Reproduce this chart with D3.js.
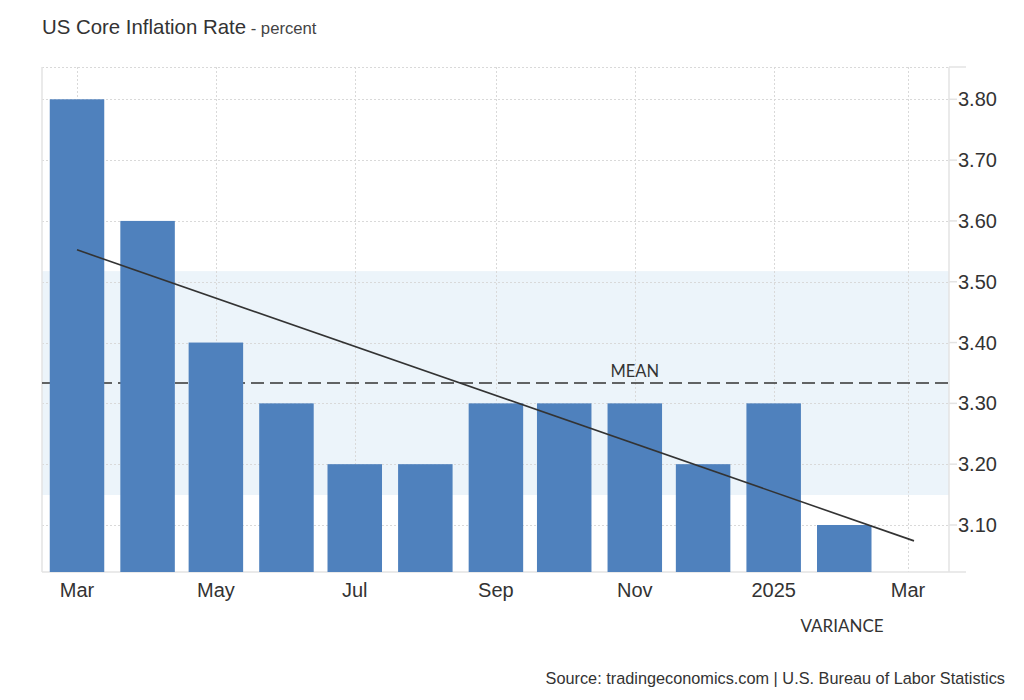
<!DOCTYPE html>
<html>
<head>
<meta charset="utf-8">
<script src="https://cdn.jsdelivr.net/npm/d3@7"></script>
<style>
  html, body { margin: 0; padding: 0; background: #fff; }
  svg { display: block; }
</style>
</head>
<body>
<svg id="chart" width="1024" height="700"></svg>
<script>
// ---- data ----
const months = ["2024-03","2024-04","2024-05","2024-06","2024-07","2024-08","2024-09","2024-10","2024-11","2024-12","2025-01","2025-02"];
const values = [3.8, 3.6, 3.4, 3.3, 3.2, 3.2, 3.3, 3.3, 3.3, 3.2, 3.3, 3.1];
const xTickDates = ["2024-03","2024-05","2024-07","2024-09","2024-11","2025-01","2025-03"];
const xTickLabels = ["Mar","May","Jul","Sep","Nov","2025","Mar"];
const yTicks = [3.1, 3.2, 3.3, 3.4, 3.5, 3.6, 3.7, 3.8];

const parse = d3.timeParse("%Y-%m");
const data = months.map((m, i) => ({ date: parse(m), value: values[i] }));

const svg = d3.select("#chart");
const plot = { left: 42, right: 949, top: 67, bottom: 572 };

const x = d3.scaleTime()
  .domain([parse("2024-03"), parse("2025-03")])
  .range([77, 908]);
const y = d3.scaleLinear()
  .domain([3.0227, 3.8531])
  .range([plot.bottom, plot.top]);

const font = "'Liberation Sans', Arial, sans-serif";
const textColor = "#333";

// title
const title = svg.append("text")
  .attr("x", 42).attr("y", 34)
  .attr("font-family", font).attr("fill", textColor);
title.append("tspan").attr("font-size", 20.4).text("US Core Inflation Rate");
title.append("tspan").attr("font-size", 16.7).attr("fill", "#444").text(" - percent");

// mean / std band
const mean = d3.mean(values);
const sd = d3.deviation(values) * Math.sqrt((values.length - 1) / values.length);

svg.append("rect")
  .attr("x", plot.left).attr("width", plot.right - plot.left)
  .attr("y", y(mean + sd)).attr("height", y(mean - sd) - y(mean + sd))
  .attr("fill", "#ecf4fa");

// grid lines
const grid = svg.append("g").attr("stroke", "#d9d9d9").attr("stroke-width", 1).attr("stroke-dasharray", "2,2");
grid.selectAll("line.h").data(yTicks.concat([y.domain()[1]])).enter().append("line")
  .attr("x1", plot.left).attr("x2", plot.right)
  .attr("y1", d => Math.round(y(d)) + 0.5).attr("y2", d => Math.round(y(d)) + 0.5);
grid.selectAll("line.v").data(xTickDates).enter().append("line")
  .attr("x1", d => Math.round(x(parse(d))) + 0.5).attr("x2", d => Math.round(x(parse(d))) + 0.5)
  .attr("y1", plot.top).attr("y2", plot.bottom);

// axis frame
const frame = svg.append("g").attr("stroke", "#e3e3e3").attr("stroke-width", 1.5).attr("fill", "none");
frame.append("line").attr("x1", plot.left).attr("x2", plot.left).attr("y1", plot.top).attr("y2", plot.bottom);
frame.append("line").attr("x1", plot.right).attr("x2", plot.right).attr("y1", plot.top).attr("y2", plot.bottom);
frame.append("line").attr("x1", plot.left).attr("x2", plot.right + 17).attr("y1", plot.bottom).attr("y2", plot.bottom);
frame.append("line").attr("x1", plot.right).attr("x2", plot.right + 17).attr("y1", plot.top).attr("y2", plot.top);
frame.selectAll("line.tick").data(yTicks).enter().append("line")
  .attr("x1", plot.right).attr("x2", plot.right + 8)
  .attr("y1", d => y(d)).attr("y2", d => y(d));

// mean dashed line (behind bars)
svg.append("line")
  .attr("x1", plot.left).attr("x2", plot.right)
  .attr("y1", y(mean)).attr("y2", y(mean))
  .attr("stroke", "#333").attr("stroke-width", 1.5).attr("stroke-dasharray", "13,6");

// bars
const barW = 54.5;
svg.append("g").selectAll("rect").data(data).enter().append("rect")
  .attr("x", d => x(d.date) - barW / 2)
  .attr("width", barW)
  .attr("y", d => y(d.value))
  .attr("height", d => plot.bottom - y(d.value))
  .attr("fill", "#4f81bd");

// trend line (least squares on time)
const xs = data.map(d => +d.date), ys = values;
const mx = d3.mean(xs), my = d3.mean(ys);
let sxy = 0, sxx = 0;
xs.forEach((v, i) => { sxy += (v - mx) * (ys[i] - my); sxx += (v - mx) * (v - mx); });
const slope = sxy / sxx, icpt = my - slope * mx;
const step = (xs[xs.length - 1] - xs[0]) / (xs.length - 1);
const tStart = xs[0], tEnd = xs[xs.length - 1] + step;
svg.append("line")
  .attr("x1", x(new Date(tStart))).attr("y1", y(icpt + slope * tStart))
  .attr("x2", x(new Date(tEnd))).attr("y2", y(icpt + slope * tEnd))
  .attr("stroke", "#333").attr("stroke-width", 1.6);

// MEAN label
svg.append("text")
  .attr("x", x(parse("2024-11"))).attr("y", y(mean) - 6)
  .attr("text-anchor", "middle")
  .attr("font-family", "Lato, sans-serif").attr("font-size", 16.5).attr("fill", textColor)
  .text("MEAN");

// VARIANCE label
svg.append("text")
  .attr("x", 842).attr("y", 632)
  .attr("text-anchor", "middle")
  .attr("font-family", "Lato, sans-serif").attr("font-size", 17).attr("fill", textColor)
  .text("VARIANCE");

// y axis labels
svg.append("g").selectAll("text").data(yTicks).enter().append("text")
  .attr("x", 958).attr("y", d => y(d) + 7)
  .attr("font-family", font).attr("font-size", 20).attr("fill", textColor)
  .text(d => d.toFixed(2));

// x axis labels
svg.append("g").selectAll("text").data(xTickDates).enter().append("text")
  .attr("x", d => x(parse(d))).attr("y", 597)
  .attr("text-anchor", "middle")
  .attr("font-family", font).attr("font-size", 20).attr("fill", textColor)
  .text((d, i) => xTickLabels[i]);

// source
svg.append("text")
  .attr("x", 1005).attr("y", 684)
  .attr("text-anchor", "end")
  .attr("font-family", font).attr("font-size", 16.3).attr("fill", textColor)
  .text("Source: tradingeconomics.com | U.S. Bureau of Labor Statistics");
</script>
</body>
</html>
